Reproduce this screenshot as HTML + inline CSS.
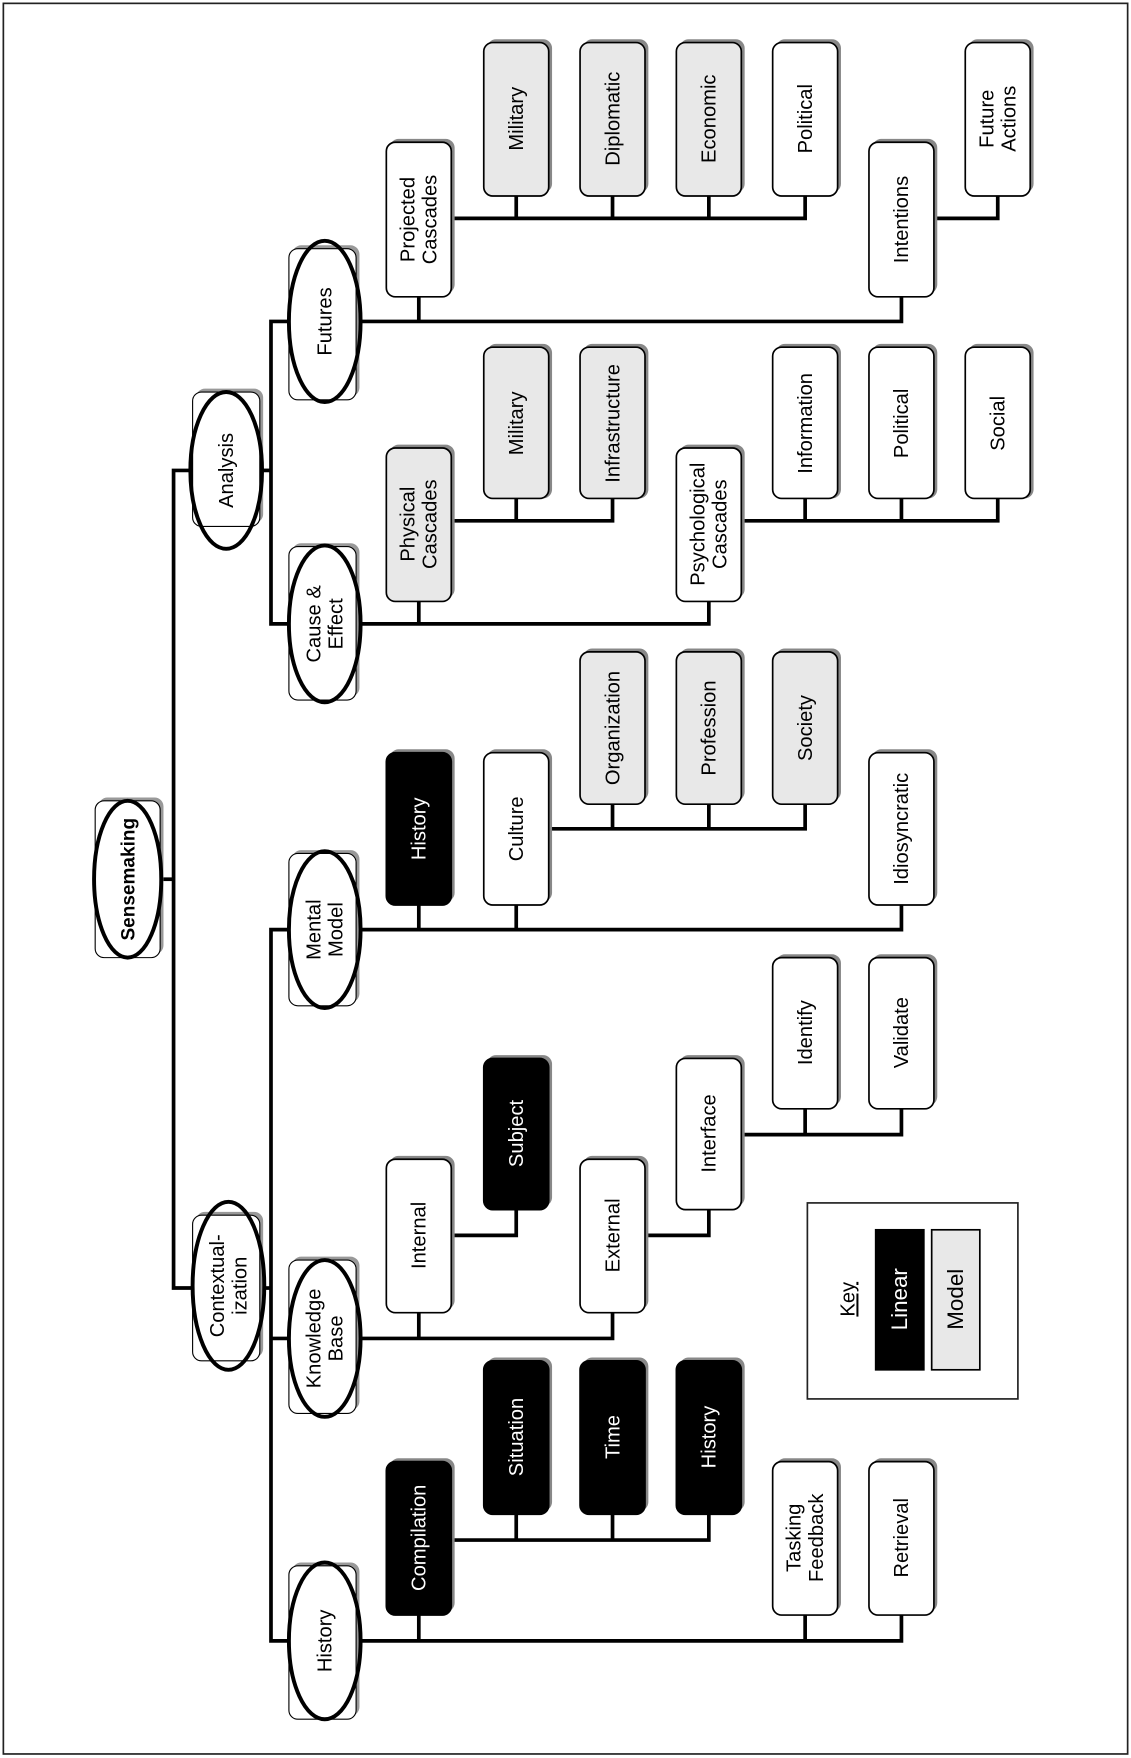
<!DOCTYPE html>
<html><head><meta charset="utf-8"><style>
html,body{margin:0;padding:0;background:#fff;}
svg{display:block;}
text{font-family:"Liberation Sans",Arial,sans-serif;font-size:18px;}
</style></head><body>
<svg width="1131" height="1758" viewBox="0 0 1010 1569.6" preserveAspectRatio="none" xmlns="http://www.w3.org/2000/svg">
<rect x="3" y="3" width="1004" height="1563" fill="#fff" stroke="#222" stroke-width="1.5"/>
<g stroke="#000" stroke-width="3.3" fill="none">
<polyline points="143,785 155,785"/>
<polyline points="172,420 155,420 155,1150 172,1150"/>
<polyline points="232,420 242,420"/>
<polyline points="258,287 242,287 242,557 258,557"/>
<polyline points="232,1150 242,1150"/>
<polyline points="258,830 242,830 242,1465 258,1465"/>
<line x1="242" y1="1195" x2="258" y2="1195"/>
<polyline points="318,287 805,287 805,265"/>
<line x1="374" y1="287" x2="374" y2="265"/>
<polyline points="403,195 719,195 719,175"/>
<line x1="461" y1="195" x2="461" y2="175"/>
<line x1="547" y1="195" x2="547" y2="175"/>
<line x1="633" y1="195" x2="633" y2="175"/>
<polyline points="834,195 891,195 891,175"/>
<polyline points="318,557 633,557 633,537"/>
<line x1="374" y1="557" x2="374" y2="537"/>
<polyline points="403,465 547,465 547,445"/>
<line x1="461" y1="465" x2="461" y2="445"/>
<polyline points="662,465 891,465 891,445"/>
<line x1="719" y1="465" x2="719" y2="445"/>
<line x1="805" y1="465" x2="805" y2="445"/>
<polyline points="318,830 805,830 805,808"/>
<line x1="374" y1="830" x2="374" y2="808"/>
<line x1="461" y1="830" x2="461" y2="808"/>
<polyline points="490,740 719,740 719,718"/>
<line x1="547" y1="740" x2="547" y2="718"/>
<line x1="633" y1="740" x2="633" y2="718"/>
<polyline points="318,1195 547,1195 547,1172"/>
<line x1="374" y1="1195" x2="374" y2="1172"/>
<polyline points="403,1103 461,1103 461,1080"/>
<polyline points="576,1103 633,1103 633,1080"/>
<polyline points="662,1013 805,1013 805,990"/>
<line x1="719" y1="1013" x2="719" y2="990"/>
<polyline points="318,1465 805,1465 805,1442"/>
<line x1="374" y1="1465" x2="374" y2="1442"/>
<line x1="719" y1="1465" x2="719" y2="1442"/>
<polyline points="403,1375 633,1375 633,1352"/>
<line x1="461" y1="1375" x2="461" y2="1352"/>
<line x1="547" y1="1375" x2="547" y2="1352"/>
</g>

<g stroke="#000">
<rect x="88" y="712" width="58" height="140" rx="8" fill="#999" stroke="none"/>
<rect x="85" y="715" width="58" height="140" rx="8" fill="#fff" stroke-width="1"/>
<ellipse cx="114" cy="785" rx="30" ry="70" fill="none" stroke-width="3.5"/>
<rect x="175" y="347" width="60" height="120" rx="8" fill="#999" stroke="none"/>
<rect x="172" y="350" width="60" height="120" rx="8" fill="#fff" stroke-width="1"/>
<ellipse cx="202" cy="420" rx="32" ry="70" fill="none" stroke-width="3.5"/>
<rect x="175" y="1082" width="60" height="130" rx="8" fill="#999" stroke="none"/>
<rect x="172" y="1085" width="60" height="130" rx="8" fill="#fff" stroke-width="1"/>
<ellipse cx="204" cy="1148" rx="32" ry="75" fill="none" stroke-width="3.5"/>
<rect x="261" y="219" width="60" height="135" rx="8" fill="#999" stroke="none"/>
<rect x="258" y="222" width="60" height="135" rx="8" fill="#fff" stroke-width="1"/>
<ellipse cx="290" cy="287" rx="32" ry="72" fill="none" stroke-width="3.5"/>
<rect x="261" y="485" width="60" height="137" rx="8" fill="#999" stroke="none"/>
<rect x="258" y="488" width="60" height="137" rx="8" fill="#fff" stroke-width="1"/>
<ellipse cx="290" cy="557" rx="32" ry="70" fill="none" stroke-width="3.5"/>
<rect x="261" y="759" width="60" height="136" rx="8" fill="#999" stroke="none"/>
<rect x="258" y="762" width="60" height="136" rx="8" fill="#fff" stroke-width="1"/>
<ellipse cx="290" cy="830" rx="32" ry="70" fill="none" stroke-width="3.5"/>
<rect x="261" y="1122" width="60" height="137" rx="8" fill="#999" stroke="none"/>
<rect x="258" y="1125" width="60" height="137" rx="8" fill="#fff" stroke-width="1"/>
<ellipse cx="290" cy="1195" rx="32" ry="70" fill="none" stroke-width="3.5"/>
<rect x="261" y="1395" width="60" height="137" rx="8" fill="#999" stroke="none"/>
<rect x="258" y="1398" width="60" height="137" rx="8" fill="#fff" stroke-width="1"/>
<ellipse cx="290" cy="1465" rx="32" ry="70" fill="none" stroke-width="3.5"/>
</g>
<g text-anchor="middle" fill="#000">
<text transform="translate(114,785) rotate(-90)" dy="6" font-weight="bold" style="font-size:17px">Sensemaking</text>
<text transform="translate(202,420) rotate(-90)" dy="6">Analysis</text>
<text transform="translate(204,1148) rotate(-90)" dy="-4">Contextual-<tspan x="0" dy="20">ization</tspan></text>
<text transform="translate(290,287) rotate(-90)" dy="6">Futures</text>
<text transform="translate(290,557) rotate(-90)" dy="-4">Cause &amp;<tspan x="0" dy="20">Effect</tspan></text>
<text transform="translate(290,830) rotate(-90)" dy="-4">Mental<tspan x="0" dy="20">Model</tspan></text>
<text transform="translate(290,1195) rotate(-90)" dy="-4">Knowledge<tspan x="0" dy="20">Base</tspan></text>
<text transform="translate(290,1465) rotate(-90)" dy="6">History</text>
</g>

<g stroke="#000" stroke-width="1.5">
<rect x="348" y="124" width="58" height="138" rx="8" fill="#888" stroke="none"/><rect x="345" y="127" width="58" height="138" rx="8" fill="#fff"/>
<rect x="435" y="35" width="58" height="137" rx="8" fill="#888" stroke="none"/><rect x="432" y="38" width="58" height="137" rx="8" fill="#e8e8e8"/>
<rect x="521" y="35" width="58" height="137" rx="8" fill="#888" stroke="none"/><rect x="518" y="38" width="58" height="137" rx="8" fill="#e8e8e8"/>
<rect x="607" y="35" width="58" height="137" rx="8" fill="#888" stroke="none"/><rect x="604" y="38" width="58" height="137" rx="8" fill="#e8e8e8"/>
<rect x="693" y="35" width="58" height="137" rx="8" fill="#888" stroke="none"/><rect x="690" y="38" width="58" height="137" rx="8" fill="#fff"/>
<rect x="779" y="124" width="58" height="138" rx="8" fill="#888" stroke="none"/><rect x="776" y="127" width="58" height="138" rx="8" fill="#fff"/>
<rect x="865" y="35" width="58" height="137" rx="8" fill="#888" stroke="none"/><rect x="862" y="38" width="58" height="137" rx="8" fill="#fff"/>
<rect x="348" y="397" width="58" height="137" rx="8" fill="#888" stroke="none"/><rect x="345" y="400" width="58" height="137" rx="8" fill="#e8e8e8"/>
<rect x="435" y="307" width="58" height="138" rx="8" fill="#888" stroke="none"/><rect x="432" y="310" width="58" height="135" rx="8" fill="#e8e8e8"/>
<rect x="521" y="307" width="58" height="138" rx="8" fill="#888" stroke="none"/><rect x="518" y="310" width="58" height="135" rx="8" fill="#e8e8e8"/>
<rect x="607" y="397" width="58" height="137" rx="8" fill="#888" stroke="none"/><rect x="604" y="400" width="58" height="137" rx="8" fill="#fff"/>
<rect x="693" y="307" width="58" height="138" rx="8" fill="#888" stroke="none"/><rect x="690" y="310" width="58" height="135" rx="8" fill="#fff"/>
<rect x="779" y="307" width="58" height="138" rx="8" fill="#888" stroke="none"/><rect x="776" y="310" width="58" height="135" rx="8" fill="#fff"/>
<rect x="865" y="307" width="58" height="138" rx="8" fill="#888" stroke="none"/><rect x="862" y="310" width="58" height="135" rx="8" fill="#fff"/>
<rect x="348" y="669" width="58" height="136" rx="8" fill="#888" stroke="none"/><rect x="345" y="672" width="58" height="136" rx="8" fill="#000"/>
<rect x="435" y="669" width="58" height="136" rx="8" fill="#888" stroke="none"/><rect x="432" y="672" width="58" height="136" rx="8" fill="#fff"/>
<rect x="521" y="579" width="58" height="136" rx="8" fill="#888" stroke="none"/><rect x="518" y="582" width="58" height="136" rx="8" fill="#e8e8e8"/>
<rect x="607" y="579" width="58" height="136" rx="8" fill="#888" stroke="none"/><rect x="604" y="582" width="58" height="136" rx="8" fill="#e8e8e8"/>
<rect x="693" y="579" width="58" height="136" rx="8" fill="#888" stroke="none"/><rect x="690" y="582" width="58" height="136" rx="8" fill="#e8e8e8"/>
<rect x="779" y="669" width="58" height="136" rx="8" fill="#888" stroke="none"/><rect x="776" y="672" width="58" height="136" rx="8" fill="#fff"/>
<rect x="348" y="1032" width="58" height="137" rx="8" fill="#888" stroke="none"/><rect x="345" y="1035" width="58" height="137" rx="8" fill="#fff"/>
<rect x="435" y="942" width="58" height="135" rx="8" fill="#888" stroke="none"/><rect x="432" y="945" width="58" height="135" rx="8" fill="#000"/>
<rect x="521" y="1032" width="58" height="137" rx="8" fill="#888" stroke="none"/><rect x="518" y="1035" width="58" height="137" rx="8" fill="#fff"/>
<rect x="607" y="942" width="58" height="135" rx="8" fill="#888" stroke="none"/><rect x="604" y="945" width="58" height="135" rx="8" fill="#fff"/>
<rect x="693" y="852" width="58" height="135" rx="8" fill="#888" stroke="none"/><rect x="690" y="855" width="58" height="135" rx="8" fill="#fff"/>
<rect x="779" y="852" width="58" height="135" rx="8" fill="#888" stroke="none"/><rect x="776" y="855" width="58" height="135" rx="8" fill="#fff"/>
<rect x="348" y="1302" width="58" height="137" rx="8" fill="#888" stroke="none"/><rect x="345" y="1305" width="58" height="137" rx="8" fill="#000"/>
<rect x="435" y="1212" width="58" height="137" rx="8" fill="#888" stroke="none"/><rect x="432" y="1215" width="58" height="137" rx="8" fill="#000"/>
<rect x="521" y="1212" width="58" height="137" rx="8" fill="#888" stroke="none"/><rect x="518" y="1215" width="58" height="137" rx="8" fill="#000"/>
<rect x="607" y="1212" width="58" height="137" rx="8" fill="#888" stroke="none"/><rect x="604" y="1215" width="58" height="137" rx="8" fill="#000"/>
<rect x="693" y="1302" width="58" height="137" rx="8" fill="#888" stroke="none"/><rect x="690" y="1305" width="58" height="137" rx="8" fill="#fff"/>
<rect x="779" y="1302" width="58" height="137" rx="8" fill="#888" stroke="none"/><rect x="776" y="1305" width="58" height="137" rx="8" fill="#fff"/>
<rect x="721" y="1074" width="188" height="175" fill="#fff" stroke="#222"/>
<rect x="782" y="1098" width="43" height="125" fill="#000"/>
<rect x="832" y="1098" width="43" height="125" fill="#e8e8e8"/>
</g>

<g text-anchor="middle" fill="#000">
<text transform="translate(374,196) rotate(-90)" dy="-4">Projected<tspan x="0" dy="20">Cascades</tspan></text>
<text transform="translate(461,106) rotate(-90)" dy="6">Military</text>
<text transform="translate(547,106) rotate(-90)" dy="6">Diplomatic</text>
<text transform="translate(633,106) rotate(-90)" dy="6">Economic</text>
<text transform="translate(719,106) rotate(-90)" dy="6">Political</text>
<text transform="translate(805,196) rotate(-90)" dy="6">Intentions</text>
<text transform="translate(891,106) rotate(-90)" dy="-4">Future<tspan x="0" dy="20">Actions</tspan></text>

<text transform="translate(374,468) rotate(-90)" dy="-4">Physical<tspan x="0" dy="20">Cascades</tspan></text>
<text transform="translate(461,378) rotate(-90)" dy="6">Military</text>
<text transform="translate(547,378) rotate(-90)" dy="6">Infrastructure</text>
<text transform="translate(633,468) rotate(-90)" dy="-4">Psychological<tspan x="0" dy="20">Cascades</tspan></text>
<text transform="translate(719,378) rotate(-90)" dy="6">Information</text>
<text transform="translate(805,378) rotate(-90)" dy="6">Political</text>
<text transform="translate(891,378) rotate(-90)" dy="6">Social</text>

<text transform="translate(374,740) rotate(-90)" dy="6" fill="#fff">History</text>
<text transform="translate(461,740) rotate(-90)" dy="6">Culture</text>
<text transform="translate(547,650) rotate(-90)" dy="6">Organization</text>
<text transform="translate(633,650) rotate(-90)" dy="6">Profession</text>
<text transform="translate(719,650) rotate(-90)" dy="6">Society</text>
<text transform="translate(805,740) rotate(-90)" dy="6">Idiosyncratic</text>

<text transform="translate(374,1103) rotate(-90)" dy="6">Internal</text>
<text transform="translate(461,1012) rotate(-90)" dy="6" fill="#fff">Subject</text>
<text transform="translate(547,1103) rotate(-90)" dy="6">External</text>
<text transform="translate(633,1012) rotate(-90)" dy="6">Interface</text>
<text transform="translate(719,922) rotate(-90)" dy="6">Identify</text>
<text transform="translate(805,922) rotate(-90)" dy="6">Validate</text>

<text transform="translate(374,1373) rotate(-90)" dy="6" fill="#fff">Compilation</text>
<text transform="translate(461,1283) rotate(-90)" dy="6" fill="#fff">Situation</text>
<text transform="translate(547,1283) rotate(-90)" dy="6" fill="#fff">Time</text>
<text transform="translate(633,1283) rotate(-90)" dy="6" fill="#fff">History</text>
<text transform="translate(719,1373) rotate(-90)" dy="-4">Tasking<tspan x="0" dy="20">Feedback</tspan></text>
<text transform="translate(805,1373) rotate(-90)" dy="6">Retrieval</text>

<text transform="translate(757,1160) rotate(-90)" dy="6" text-decoration="underline">Key</text>
<text transform="translate(803,1160) rotate(-90)" dy="7" fill="#fff" style="font-size:20px">Linear</text>
<text transform="translate(853,1160) rotate(-90)" dy="7" style="font-size:20px">Model</text>
</g>
</svg>
</body></html>
